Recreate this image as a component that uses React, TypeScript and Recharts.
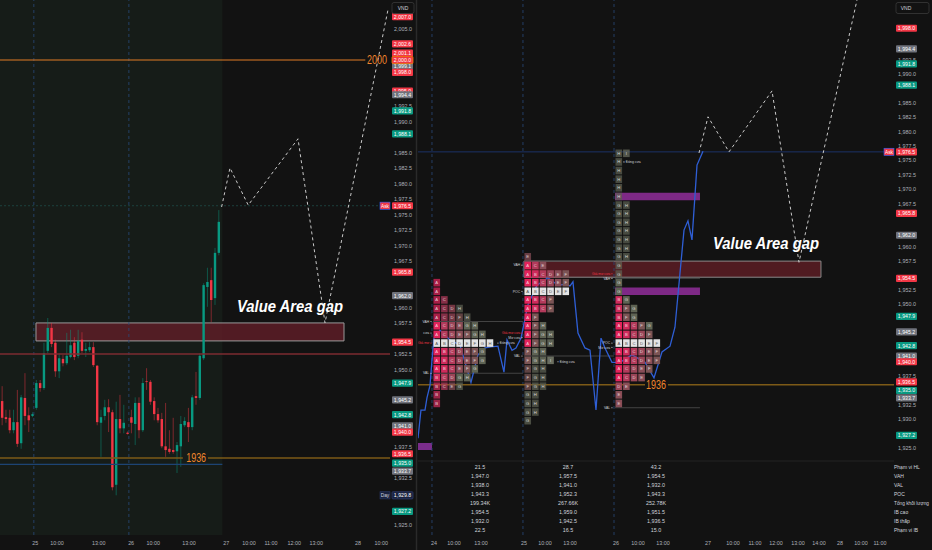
import React from 'react';
import { ComposedChart, Bar, Line, Scatter, XAxis, YAxis, ReferenceLine, ReferenceArea } from 'recharts';

const FONT = '"Liberation Sans", Arial, sans-serif';
const BG = '#121212';
const AXIS_TEXT = '#aeb1b9';

// ---------- left panel: VN30F1M candles ----------
const candleOpen = [1945.0, 1942.4, 1942.3, 1940.3, 1941.6, 1938.2, 1945.5, 1942.7, 1942.6, 1943.9, 1947.9, 1947.1, 1953.1, 1956.8, 1954.4, 1949.8, 1951.8, 1951.1, 1952.1, 1954.4, 1952.3, 1954.9, 1953.1, 1953.2, 1953.7, 1950.7, 1941.5, 1942.6, 1944.0, 1943.2, 1931.5, 1942.1, 1940.6, 1939.9, 1942.4, 1941.3, 1944.7, 1940.3, 1948.2, 1948.1, 1945.0, 1942.9, 1942.1, 1937.7, 1937.3, 1937.1, 1936.9, 1937.7, 1941.1, 1941.6, 1940.8, 1945.8, 1945.5, 1951.9, 1963.4, 1964.5, 1961.6, 1968.9];
const candleHigh = [1947.4, 1943.6, 1943.6, 1943.6, 1946.8, 1946.0, 1949.5, 1944.0, 1943.2, 1948.4, 1948.4, 1954.4, 1958.4, 1957.6, 1954.9, 1952.7, 1952.4, 1956.0, 1956.5, 1955.3, 1956.5, 1956.1, 1954.4, 1954.5, 1954.5, 1950.8, 1943.6, 1945.2, 1945.3, 1943.6, 1944.9, 1946.0, 1944.4, 1940.1, 1943.6, 1945.6, 1945.6, 1948.7, 1950.3, 1948.4, 1945.6, 1943.9, 1943.1, 1944.7, 1940.3, 1942.3, 1938.4, 1942.6, 1942.4, 1943.9, 1946.0, 1949.7, 1952.7, 1964.0, 1966.5, 1966.5, 1969.7, 1975.8];
const candleLow = [1941.1, 1941.5, 1939.8, 1939.8, 1937.6, 1937.3, 1941.1, 1940.0, 1942.4, 1943.6, 1946.5, 1946.8, 1952.7, 1953.7, 1948.9, 1948.7, 1950.6, 1950.8, 1951.9, 1951.6, 1951.9, 1952.7, 1952.1, 1952.9, 1950.5, 1941.1, 1936.0, 1941.9, 1940.0, 1930.6, 1929.8, 1939.8, 1939.8, 1939.6, 1939.8, 1937.9, 1939.0, 1940.0, 1946.8, 1944.4, 1941.9, 1941.5, 1937.4, 1936.0, 1936.5, 1936.5, 1933.4, 1934.4, 1940.8, 1938.4, 1940.3, 1944.4, 1945.2, 1951.6, 1960.2, 1957.7, 1960.5, 1968.5];
const candleClose = [1942.3, 1942.1, 1940.3, 1941.6, 1938.1, 1945.6, 1942.6, 1941.9, 1942.9, 1947.9, 1947.1, 1952.7, 1956.8, 1954.2, 1949.8, 1951.9, 1951.1, 1952.3, 1954.0, 1952.1, 1954.7, 1953.1, 1953.4, 1953.7, 1950.8, 1941.6, 1942.4, 1944.0, 1943.2, 1931.1, 1942.1, 1940.6, 1941.5, 1939.7, 1941.5, 1944.7, 1940.3, 1947.9, 1948.1, 1944.9, 1942.9, 1941.9, 1937.7, 1937.1, 1936.8, 1936.8, 1937.9, 1941.3, 1941.8, 1940.8, 1945.6, 1945.5, 1952.3, 1963.7, 1964.2, 1961.3, 1968.9, 1973.9];

const leftTimeTicks = [8.7, 14.4, 25.4, 33.9, 39.7, 49.1, 58.9, 64.9, 70.7, 76.8, 82.6, 93.6, 99.7];
const leftTimeLabels = ['25', '10:00', '13:00', '26', '10:00', '13:00', '27', '10:00', '11:00', '12:00', '13:00', '28', '10:00'];
const leftDaySplits = [8.3, 33.3];

// hand-drawn scenario path (bar index, price)
const leftPathBars = [57.7, 59.9, 64.7, 77.8, 84.9, 101.5];
const leftPathPrices = [1976.3, 1982.6, 1976.6, 1987.3, 1957.6, 2008.2];

const leftPriceTicks = [2005, 1992.5, 1990, 1985, 1982.5, 1980, 1977.5, 1975, 1972.5, 1970, 1967.5, 1960, 1957.5, 1952.5, 1950, 1937.5, 1932.5, 1925];
const leftTagPrices = [2007.0, 2002.6, 2001.1, 1999.1, 1998.0, 2000.0, 1995.0, 1994.4, 1991.8, 1988.1, 1976.5, 1965.8, 1962.0, 1954.5, 1947.9, 1945.2, 1942.8, 1941.0, 1940.0, 1936.5, 1935.0, 1933.7, 1929.8, 1927.2];
const leftTagKinds = ['r', 'r', 'r', 'n', 'r', 'o', 'r', 'n', 'g', 'g', 'r', 'r', 'n', 'r', 'g', 'n', 'g', 'n', 'r', 'r', 'g', 'n', 'd', 'g'];

const leftNoteBars = [75.7, 98.6, 51.0];
const leftNotePrices = [1960.3, 2000, 1935.8];
const leftNoteTexts = ['Value Area gap', '2000', '1936'];
const leftNoteKinds = ['title', 'level', 'level'];

const askPrice = 1976.5;
const dayClosePrice = 1929.8;

// ---------- right panel: TPO profiles ----------
const rightTimeTicks = [0.26, 2.89, 6.45, 12.1, 14.87, 18.16, 24.21, 27.1, 30.4, 36.32, 39.6, 42.5, 45.26, 48.16, 50.92, 53.68, 56.45, 58.95];
const rightTimeLabels = ['24', '10:00', '13:00', '25', '10:00', '13:00', '26', '10:00', '13:00', '27', '10:00', '11:00', '12:00', '13:00', '14:00', '28', '10:00', '11:00'];
const rightDaySplits = [0, 11.97, 23.95];

const blueSlots = [-1.84, -1.45, -0.92, -0.66, -0.26, 0, 0.26, 1.05, 2.37, 3.68, 5.13, 6.05, 6.97, 7.76, 8.68, 9.47, 9.87, 10.53, 11.05, 11.71, 12.63, 13.82, 15.26, 16.58, 17.63, 18.16, 18.55, 19.21, 20.13, 20.79, 21.58, 22.24, 22.76, 23.68, 24.74, 26.32, 28.03, 29.21, 30.26, 31.32, 31.97, 32.63, 33.16, 33.68, 34.21, 34.87, 35.66];
const bluePrices = [1926.7, 1931.6, 1931.6, 1933.7, 1935.9, 1940.3, 1944.1, 1945.5, 1943.8, 1942.9, 1936.4, 1941.2, 1942.4, 1942.6, 1942.7, 1938.2, 1943.8, 1942.0, 1942.4, 1944.1, 1949.9, 1953.3, 1954.6, 1953.3, 1953.5, 1953.2, 1953.9, 1945.0, 1942.4, 1942.0, 1931.6, 1944.1, 1942.4, 1939.9, 1939.9, 1941.2, 1939.9, 1937.2, 1941.7, 1942.7, 1946.0, 1955.4, 1962.9, 1964.5, 1961.2, 1974.2, 1976.6];

const rightPathSlots = [35.13, 36.32, 39.08, 44.74, 48.29, 55.92];
const rightPathPrices = [1976.3, 1982.6, 1976.5, 1987.1, 1957.3, 2002.9];

const tpoStartSlot = [0.13, 12.1, 24.08];
const tpoTopPrice = [1953.75, 1958.25, 1976.25];
const tpoRows24 = ['A', 'A', 'AC', 'ACDH', 'ACDFH', 'ACDEGH', 'ACDEFGH', 'ABCDEFGH', 'ABCDEFG', 'ABCDEFG', 'ABCEFG', 'BCDGH', 'BCEG', 'B', 'B'];
const tpoRows25 = ['E', 'ACE', 'ABCDEF', 'ABCDEF', 'ABCDEF', 'ABCF', 'ABCF', 'AF', 'AFH', 'AFGH', 'AFGH', 'FGH', 'FGHI', 'FGH', 'FGH', 'FGH', 'GH', 'GH', 'GH', 'G'];
const tpoRows26 = ['HI', 'H', 'H', 'H', 'H', 'H', 'GH', 'GH', 'GH', 'GH', 'GH', 'GH', 'GH', 'G', 'G', 'G', 'G', 'BG', 'BFG', 'BFG', 'ABCFG', 'ABCDF', 'ABCDEF', 'ABCDEF', 'ABCDEF', 'ACDEF', 'ACDE', 'DE', 'E', 'E'];
const tpoVaLineEnd = [11.97, 23.95, 35.26];

const statLabels = ['Phạm vi HL', 'VAH', 'VAL', 'POC', 'Tổng khối lượng', 'IB cao', 'IB thấp', 'Phạm vi IB'];
const statRange = [21.5, 28.7, 43.2];
const statVAH = [1947.0, 1957.5, 1954.5];
const statVAL = [1938.0, 1941.0, 1932.0];
const statPOC = [1943.3, 1952.3, 1943.3];
const statVolume = ['199.34K', '267.66K', '252.78K'];
const statIBHigh = [1954.5, 1959.0, 1951.5];
const statIBLow = [1932.0, 1942.5, 1936.5];
const statIBRange = [22.5, 16.5, 15.0];

const rightPriceTicks = [1992.5, 1990, 1985, 1982.5, 1980, 1977.5, 1975, 1972.5, 1970, 1967.5, 1960, 1957.5, 1952.5, 1950, 1937.5, 1932.5, 1930, 1925];
const rightTagPrices = [1998.0, 1994.4, 1991.8, 1988.1, 1976.5, 1965.8, 1962.0, 1954.5, 1947.9, 1945.2, 1942.8, 1941.0, 1940.0, 1936.5, 1935.0, 1933.7, 1927.2];
const rightTagKinds = ['r', 'n', 'g', 'g', 'r', 'r', 'n', 'r', 'g', 'n', 'g', 'n', 'r', 'r', 'g', 'n', 'g'];

const rightNoteSlots = [-0.13, -0.13, -0.13, -0.13, 8.68, 11.84, 11.84, 11.84, 11.84, 11.84, 16.58, 23.68, 23.68, 23.68, 23.68, 23.68, 25.26, 29.47, 43.95];
const rightNotePrices = [1947.0, 1945.0, 1943.25, 1938.0, 1943.25, 1956.8, 1952.25, 1945.0, 1944.2, 1941.0, 1940.0, 1955.3, 1954.5, 1943.25, 1942.5, 1932.0, 1974.75, 1936, 1960.6];
const rightNoteTexts = ['VAH', 'cửa', 'Giá mở', 'VAL', 'Đóng cửa', 'VAH', 'POC', 'Giá mở cửa', 'Mở cửa', 'VAL', 'Đóng cửa', 'Giá mở cửa', 'VAH', 'POC', 'Mở cửa', 'VAL', 'Đóng cửa', '1936', 'Value Area gap'];
const rightNoteKinds = ['label', 'label', 'labelRed', 'label', 'after', 'label', 'label', 'labelRed', 'label', 'label', 'after', 'labelRed', 'label', 'label', 'label', 'label', 'after', 'level', 'title'];

// ---------- derived tables ----------
const candles = candleOpen.map((o, i) => ({
  i,
  range: [candleLow[i], candleHigh[i]],
  o,
  h: candleHigh[i],
  l: candleLow[i],
  c: candleClose[i],
}));
const leftPath = leftPathBars.map((i, k) => ({ i, price: leftPathPrices[k] }));
const leftNotes = leftNoteBars.map((i, k) => ({ i, price: leftNotePrices[k], text: leftNoteTexts[k], kind: leftNoteKinds[k] }));

const blueLine = blueSlots.map((s, k) => ({ s, p: bluePrices[k] }));
const rightPath = rightPathSlots.map((s, k) => ({ s, p: rightPathPrices[k] }));
const rightNotes = rightNoteSlots.map((s, k) => ({ s, p: rightNotePrices[k], text: rightNoteTexts[k], kind: rightNoteKinds[k] }));

const tpoCells = [tpoRows24, tpoRows25, tpoRows26].flatMap((rows, d) => {
  const top = tpoTopPrice[d];
  const pocRow = Math.round((top - statPOC[d]) / 1.5);
  const vaTop = Math.round((top - statVAH[d]) / 1.5);
  const vaBot = Math.round((top - statVAL[d]) / 1.5);
  return rows.flatMap((row, r) =>
    row.split('').map((letter, c) => ({
      s: tpoStartSlot[d] + c + 0.5,
      p: top - 1.5 * r,
      letter,
      poc: r === pocRow,
      va: r >= vaTop && r <= vaBot,
    }))
  );
});

// ---------- renderers ----------
const TAG_FILL: Record<string, string> = { r: '#f23645', g: '#089981', n: '#6f727b', o: '#f23645', d: '#1a2340' };
const TPO_FILL: Record<string, string> = { A: '#e2235b', B: '#cf2b5c', C: '#b33a5b', D: '#9a4558', E: '#884d57', F: '#7b5455', G: '#5f6454', H: '#5b6052', I: '#6a6e60' };

const fmt = (v: number) => v.toLocaleString('en-US', { minimumFractionDigits: 1, maximumFractionDigits: 1 });

function priceTick(tagPrices: number[], tagKinds: string[]) {
  return (props: any) => {
    const { x, y, payload } = props;
    const v = payload.value as number;
    const k = tagPrices.indexOf(v);
    if (k < 0) {
      return (
        <text x={x + 13} y={y} dy={1.9} textAnchor="middle" fontSize={5.4} fill={AXIS_TEXT} fontFamily={FONT}>
          {fmt(v)}
        </text>
      );
    }
    const kind = tagKinds[k];
    return (
      <g>
        {v === askPrice && (
          <g>
            <rect x={x - 10} y={y - 3.6} width={10} height={7.2} fill="#f23645" stroke="#2962ff" strokeWidth={0.6} />
            <text x={x - 5} y={y} dy={1.9} textAnchor="middle" fontSize={4.8} fill="#fff" fontFamily={FONT}>Ask</text>
          </g>
        )}
        {v === dayClosePrice && (
          <g>
            <rect x={x - 10} y={y - 3.6} width={10} height={7.2} fill="#1a2340" stroke="#2b3a6a" strokeWidth={0.6} />
            <text x={x - 5} y={y} dy={1.9} textAnchor="middle" fontSize={4.8} fill="#d1d4dc" fontFamily={FONT}>Day</text>
          </g>
        )}
        <rect
          x={x + 2}
          y={y - 3.6}
          width={21}
          height={7.2}
          rx={1}
          fill={TAG_FILL[kind]}
          stroke={kind === 'o' ? '#f57c00' : kind === 'd' ? '#2b3a6a' : 'none'}
          strokeWidth={0.8}
        />
        <text x={x + 12.5} y={y} dy={1.9} textAnchor="middle" fontSize={5.2} fill="#fff" fontFamily={FONT}>
          {fmt(v)}
        </text>
      </g>
    );
  };
}

function timeTick(ticks: number[], labels: string[]) {
  return (props: any) => {
    const k = ticks.indexOf(props.payload.value);
    return (
      <text x={props.x} y={props.y} dy={10} textAnchor="middle" fontSize={5.4} fill={AXIS_TEXT} fontFamily={FONT}>
        {labels[k]}
      </text>
    );
  };
}

function renderCandle(props: any) {
  const { x, y, width, height, payload } = props;
  if (!payload || !Number.isFinite(y)) return <g />;
  const { o, h, l, c } = payload;
  const color = c >= o ? '#089981' : '#f23645';
  const k = h > l ? height / (h - l) : 0;
  const bodyTop = y + (h - Math.max(o, c)) * k;
  const bodyH = Math.max(0.8, Math.abs(c - o) * k);
  const mid = x + width / 2;
  return (
    <g>
      <line x1={mid} x2={mid} y1={y} y2={y + height} stroke={color} strokeOpacity={0.6} strokeWidth={0.8} />
      <rect x={x} y={bodyTop} width={width} height={bodyH} fill={color} />
    </g>
  );
}

function renderTpo(props: any) {
  const { cx, cy, payload } = props;
  const fill = payload.poc ? '#e4e4e4' : TPO_FILL[payload.letter];
  return (
    <g>
      <rect x={cx - 3.3} y={cy - 3.8} width={6.6} height={7.6} fill={fill} fillOpacity={payload.poc || payload.va ? 1 : 0.72} />
      <text x={cx} y={cy} dy={1.5} textAnchor="middle" fontSize={4.2} fill={payload.poc ? '#555' : 'rgba(255,255,255,0.78)'} fontFamily={FONT}>
        {payload.letter}
      </text>
    </g>
  );
}

function renderNote(props: any) {
  const { cx, cy, payload } = props;
  const kind = payload.kind;
  if (kind === 'title') {
    return (
      <text x={cx} y={cy} dominantBaseline="central" textAnchor="middle" fontSize={17} fontWeight="bold" fontStyle="italic" fill="#ffffff" textLength={106} lengthAdjust="spacingAndGlyphs" fontFamily={FONT}>
        {payload.text}
      </text>
    );
  }
  if (kind === 'level') {
    return (
      <text x={cx} y={cy} dominantBaseline="central" textAnchor="middle" fontSize={12} fill="#f0852d" textLength={20} lengthAdjust="spacingAndGlyphs" fontFamily={FONT}>
        {payload.text}
      </text>
    );
  }
  const after = kind === 'after';
  const color = kind === 'labelRed' ? '#f23645' : '#cfd2da';
  return (
    <g>
      <circle cx={cx} cy={cy} r={0.6} fill={color} />
      <text x={after ? cx + 1.8 : cx - 1.8} y={cy} dy={1.2} textAnchor={after ? 'start' : 'end'} fontSize={3.4} fill={color} fontFamily={FONT}>
        {payload.text}
      </text>
    </g>
  );
}

function LeftPanel() {
  return (
    <ComposedChart width={418} height={550} data={candles} margin={{ top: 0, right: 0, bottom: 0, left: 0 }}>
      <XAxis dataKey="i" type="number" domain={[-0.6, 102]} allowDataOverflow ticks={leftTimeTicks} interval={0} height={15} axisLine={false} tickLine={false} tickSize={0} tickMargin={0} tick={timeTick(leftTimeTicks, leftTimeLabels)} />
      <YAxis orientation="right" type="number" domain={[1923.4, 2009.68]} allowDataOverflow width={28} ticks={[...leftPriceTicks, ...leftTagPrices]} interval={0} axisLine={false} tickLine={false} tickSize={0} tickMargin={0} tick={priceTick(leftTagPrices, leftTagKinds)} />
      <ReferenceArea x1={-0.6} x2={57.9} y1={1923.4} y2={2009.68} fill="#1a251d" fillOpacity={0.55} stroke="none" />
      {leftDaySplits.map((x) => (
        <ReferenceLine key={x} x={x} stroke="#28497a" strokeDasharray="3 3" strokeWidth={0.8} />
      ))}
      <ReferenceLine segment={[{ x: -0.6, y: 2000 }, { x: 95.5, y: 2000 }]} stroke="#e07b24" strokeWidth={1.2} />
      <ReferenceLine y={askPrice} stroke="#1e4b47" strokeDasharray="2 2" strokeWidth={0.8} />
      <ReferenceLine y={1952.6} stroke="#7c2b30" strokeWidth={1.5} />
      <ReferenceLine segment={[{ x: -0.6, y: 1935.8 }, { x: 47.5, y: 1935.8 }]} stroke="#7d5a17" strokeWidth={1.5} />
      <ReferenceLine segment={[{ x: 54.1, y: 1935.8 }, { x: 102, y: 1935.8 }]} stroke="#7d5a17" strokeWidth={1.5} />
      <ReferenceLine segment={[{ x: -0.6, y: 1934.8 }, { x: 57.9, y: 1934.8 }]} stroke="#1d4474" strokeWidth={1.2} />
      <Bar dataKey="range" barSize={3} shape={renderCandle} isAnimationActive={false} />
      <ReferenceArea x1={8.87} x2={89.9} y1={1954.7} y2={1957.6} fill="#6a1f29" fillOpacity={0.72} stroke="#9a9a9a" strokeWidth={1} />
      <Line data={leftPath} dataKey="price" stroke="#c9c9c9" strokeWidth={1} strokeDasharray="3 3" dot={false} activeDot={false} isAnimationActive={false} />
      <Scatter data={leftNotes} dataKey="price" shape={renderNote} isAnimationActive={false} />
    </ComposedChart>
  );
}

function RightPanel() {
  return (
    <ComposedChart width={514} height={550} data={blueLine} margin={{ top: 0, right: 0, bottom: 0, left: 0 }}>
      <XAxis dataKey="s" type="number" domain={[-1.84, 60.79]} allowDataOverflow ticks={rightTimeTicks} interval={0} height={15} axisLine={false} tickLine={false} tickSize={0} tickMargin={0} tick={timeTick(rightTimeTicks, rightTimeLabels)} />
      <YAxis orientation="right" type="number" domain={[1909.87, 2002.91]} allowDataOverflow width={38} ticks={[...rightPriceTicks, ...rightTagPrices]} interval={0} axisLine={false} tickLine={false} tickSize={0} tickMargin={0} tick={priceTick(rightTagPrices, rightTagKinds)} />
      {rightDaySplits.map((x) => (
        <ReferenceLine key={x} x={x} stroke="#28497a" strokeDasharray="3 3" strokeWidth={0.8} />
      ))}
      <ReferenceLine y={askPrice} stroke="#1c3670" strokeWidth={0.9} />
      <ReferenceLine segment={[{ x: -1.84, y: 1936 }, { x: 28.03, y: 1936 }]} stroke="#7d5a17" strokeWidth={1.5} />
      <ReferenceLine segment={[{ x: 31.05, y: 1936 }, { x: 60.79, y: 1936 }]} stroke="#7d5a17" strokeWidth={1.5} />
      {tpoStartSlot.map((s, d) => (
        <ReferenceLine key={'vah' + d} segment={[{ x: s, y: statVAH[d] }, { x: tpoVaLineEnd[d], y: statVAH[d] }]} stroke="#4a4a4a" strokeWidth={0.9} />
      ))}
      {tpoStartSlot.map((s, d) => (
        <ReferenceLine key={'val' + d} segment={[{ x: s, y: statVAL[d] }, { x: tpoVaLineEnd[d], y: statVAL[d] }]} stroke="#4a4a4a" strokeWidth={0.9} />
      ))}
      <Line dataKey="p" stroke="#2f5fd6" strokeWidth={1.3} dot={false} activeDot={false} isAnimationActive={false} />
      <Scatter data={tpoCells} dataKey="p" shape={renderTpo} isAnimationActive={false} />
      <ReferenceArea x1={-1.84} x2={0} y1={1924.65} y2={1925.87} fill="#7b2d8b" fillOpacity={1} stroke="none" />
      <ReferenceArea x1={24.08} x2={35.26} y1={1968.1} y2={1969.4} fill="#8b2c93" fillOpacity={0.9} stroke="none" />
      <ReferenceArea x1={24.08} x2={35.26} y1={1951.6} y2={1952.9} fill="#8b2c93" fillOpacity={0.9} stroke="none" />
      <ReferenceArea x1={12.1} x2={51.18} y1={1954.7} y2={1957.5} fill="#5c1d24" fillOpacity={0.85} stroke="#8a8a8a" strokeWidth={1} />
      <Line data={rightPath} dataKey="p" stroke="#c9c9c9" strokeWidth={1} strokeDasharray="3 3" dot={false} activeDot={false} isAnimationActive={false} />
      <Scatter data={rightNotes} dataKey="p" shape={renderNote} isAnimationActive={false} />
    </ComposedChart>
  );
}

const statRowsText = [
  statRange.map((v) => v.toFixed(1)),
  statVAH.map(fmt),
  statVAL.map(fmt),
  statPOC.map(fmt),
  statVolume,
  statIBHigh.map(fmt),
  statIBLow.map(fmt),
  statIBRange.map((v) => v.toFixed(1)),
];
const statRowY = [467, 476.5, 485.5, 494.5, 503.5, 512.5, 521.5, 530.5];
const statColX = [480, 568, 656];

export default function App() {
  return (
    <div style={{ position: 'absolute', left: 0, top: 0, width: 932, height: 550, background: BG, overflow: 'hidden', fontFamily: FONT }}>
      <svg width={932} height={550} style={{ position: 'absolute', left: 0, top: 0 }}>
        <text x={192} y={268} textAnchor="middle" fontSize={40} fill="rgba(255,255,255,0.02)" fontFamily={FONT}>VN30F1M</text>
        <text x={200} y={289} textAnchor="middle" fontSize={11} fill="rgba(255,255,255,0.02)" fontFamily={FONT}>VN30 Index Futures, 1 tháng</text>
        <text x={665} y={233} textAnchor="middle" fontSize={36} fill="rgba(255,255,255,0.02)" fontFamily={FONT}>VN30F1M</text>
        <text x={660} y={254} textAnchor="middle" fontSize={11} fill="rgba(255,255,255,0.02)" fontFamily={FONT}>VN30 Index Futures, 1 tháng</text>
      </svg>
      <div style={{ position: 'absolute', left: 0, top: 0 }}>
        <LeftPanel />
      </div>
      <div style={{ position: 'absolute', left: 418, top: 0 }}>
        <RightPanel />
      </div>
      <svg width={932} height={550} style={{ position: 'absolute', left: 0, top: 0, pointerEvents: 'none' }}>
        <line x1={416.5} x2={416.5} y1={0} y2={550} stroke="#2a2a2a" strokeWidth={1.5} />
        <line x1={418} x2={894} y1={461} y2={461} stroke="#222" strokeWidth={1} />
        <rect x={392} y={2.5} width={22} height={11} rx={2} fill={BG} stroke="#3a3a3a" strokeWidth={0.8} />
        <text x={403} y={10} textAnchor="middle" fontSize={5} fill="#d1d4dc">VND</text>
        <rect x={896} y={2.5} width={33} height={11} rx={2} fill={BG} stroke="#3a3a3a" strokeWidth={0.8} />
        <text x={906} y={10} textAnchor="middle" fontSize={5} fill="#d1d4dc">VND</text>
        {statRowsText.map((row, r) =>
          row.map((t, c) => (
            <text key={r + '-' + c} x={statColX[c]} y={statRowY[r]} dy={1.9} textAnchor="middle" fontSize={5.4} fill="#d1d4dc">
              {t}
            </text>
          ))
        )}
        {statLabels.map((t, r) => (
          <text key={t} x={894} y={statRowY[r]} dy={1.8} fontSize={5} fill="#d1d4dc" textLength={t.length > 12 ? 35 : undefined} lengthAdjust="spacingAndGlyphs">
            {t}
          </text>
        ))}
      </svg>
    </div>
  );
}
